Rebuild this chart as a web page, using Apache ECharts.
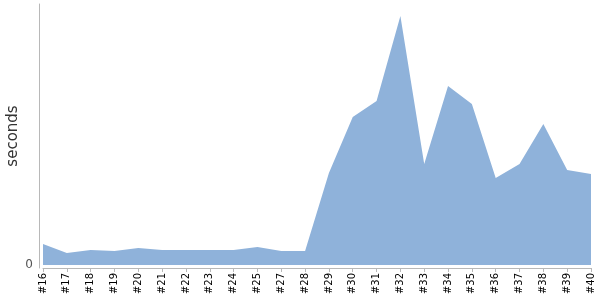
<!DOCTYPE html>
<html><head><meta charset="utf-8">
<script src="https://cdn.jsdelivr.net/npm/echarts@6/dist/echarts.min.js"></script>
<style>html,body{margin:0;padding:0;background:#fff}#c{width:600px;height:300px}</style>
</head><body><div id="c"></div>
<script>
const categories = ['#16','#17','#18','#19','#20','#21','#22','#23','#24','#25','#27','#28','#29','#30','#31','#32','#33','#34','#35','#36','#37','#38','#39','#40'];
const seconds = [21,12,15,14,17,15,15,15,15,18,14,14,92,148,164,249,101,179,161,87,101,141,95,91];
const yLabels = [0];

const chart = echarts.init(document.getElementById('c'), null, {renderer:'canvas'});
chart.setOption({
  animation:false,
  grid:{left:43,right:9,top:4,bottom:32,containLabel:false,outerBoundsMode:'none'},
  xAxis:{
    type:'category', data:categories, boundaryGap:false,
    axisLine:{onZero:false, lineStyle:{color:'#b8b8b8'}},
    axisTick:{length:4,lineStyle:{color:'#b8b8b8'}, interval:0},
    axisLabel:{rotate:90, interval:0, margin:5, fontSize:10, fontFamily:'DejaVu Sans', color:'#000'},
    splitLine:{show:false}
  },
  yAxis:{
    type:'value', min:-3, max:261, offset:4,
    name:'seconds', nameLocation:'middle', nameGap:18, nameMoveOverlap:false,
    nameTextStyle:{fontSize:15, fontFamily:'DejaVu Sans', color:'#333'},
    axisLine:{show:true, lineStyle:{color:'#b8b8b8'}},
    axisTick:{show:false},
    axisLabel:{customValues:yLabels, fontSize:12, fontFamily:'DejaVu Sans', color:'#555', margin:6},
    splitLine:{show:false}
  },
  series:[{
    type:'line', data:seconds, symbol:'none',
    lineStyle:{width:0},
    areaStyle:{color:'#8fb2da', opacity:1, origin:0}
  }]
});
</script></body></html>
